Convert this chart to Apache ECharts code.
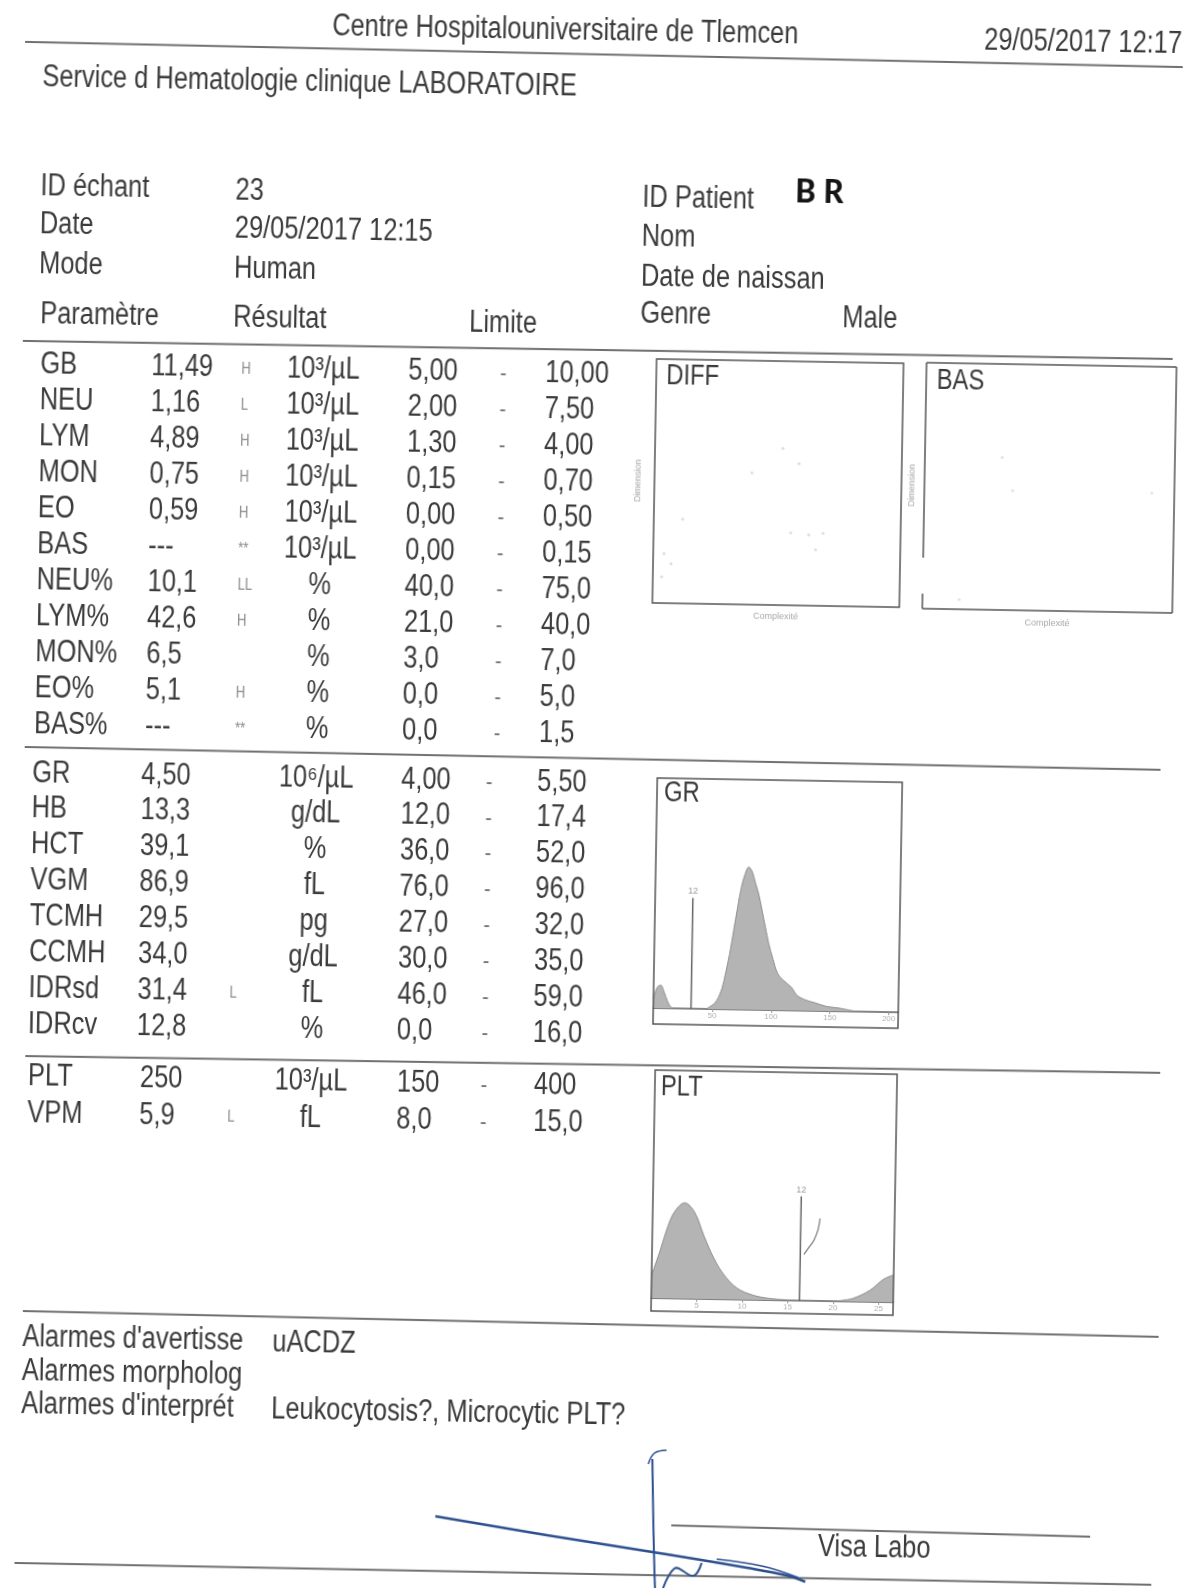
<!DOCTYPE html>
<html><head><meta charset="utf-8">
<script src="https://cdn.jsdelivr.net/npm/echarts@6/dist/echarts.min.js"></script>
<style>
html,body{margin:0;padding:0;background:#fff;overflow:hidden;width:1197px;height:1588px}
#c{position:absolute;left:0;top:0;width:1197px;height:1588px;transform:rotate(1deg);transform-origin:598px 794px;}
</style>
</head><body><div id="c"></div>
<script>
// ---------------- DATA ----------------
const headerTitle = 'Centre Hospitalouniversitaire de Tlemcen';
const printDate = '29/05/2017 12:17';
const serviceName = 'Service d Hematologie clinique LABORATOIRE';

const infoLabelsL = ['ID échant', 'Date', 'Mode'];
const infoValuesL = ['23', '29/05/2017 12:15', 'Human'];
const tableHead = ['Paramètre', 'Résultat', 'Limite'];
const infoLabelsR = ['ID Patient', 'Nom', 'Date de naissan', 'Genre'];
const patientId = 'B R';
const genre = 'Male';

const wbcParams  = ['GB','NEU','LYM','MON','EO','BAS','NEU%','LYM%','MON%','EO%','BAS%'];
const wbcResults = ['11,49','1,16','4,89','0,75','0,59','---','10,1','42,6','6,5','5,1','---'];
const wbcFlags   = ['H','L','H','H','H','**','LL','H','','H','**'];
const wbcUnits   = ['10³/µL','10³/µL','10³/µL','10³/µL','10³/µL','10³/µL','%','%','%','%','%'];
const wbcLow     = ['5,00','2,00','1,30','0,15','0,00','0,00','40,0','21,0','3,0','0,0','0,0'];
const wbcHigh    = ['10,00','7,50','4,00','0,70','0,50','0,15','75,0','40,0','7,0','5,0','1,5'];

const rbcParams  = ['GR','HB','HCT','VGM','TCMH','CCMH','IDRsd','IDRcv'];
const rbcResults = ['4,50','13,3','39,1','86,9','29,5','34,0','31,4','12,8'];
const rbcFlags   = ['','','','','','','L',''];
const rbcUnits   = ['10⁶/µL','g/dL','%','fL','pg','g/dL','fL','%'];
const rbcLow     = ['4,00','12,0','36,0','76,0','27,0','30,0','46,0','0,0'];
const rbcHigh    = ['5,50','17,4','52,0','96,0','32,0','35,0','59,0','16,0'];

const pltParams  = ['PLT','VPM'];
const pltResults = ['250','5,9'];
const pltFlags   = ['','L'];
const pltUnits   = ['10³/µL','fL'];
const pltLow     = ['150','8,0'];
const pltHigh    = ['400','15,0'];

const alarmLabels = ["Alarmes d'avertisse", 'Alarmes morpholog', "Alarmes d'interprét"];
const alarmValues = ['uACDZ', '', 'Leukocytosis?, Microcytic PLT?'];
const visaLabel = 'Visa Labo';

// scatter boxes (faint dots, % of box)
const diffDots = [[51.8,64.2],[39.4,54],[58.4,58.1],[11.7,34.5],[4.4,20.3],[7.3,16.2],[3.6,10.8],[55.5,29.7],[62.8,29],[68.6,29.7],[65.7,23]];
const basDots  = [[30.9,62],[35.3,48.6],[14.7,4],[91,48.6]];

// GR histogram (fL, relative count)
const grCurve = [[0,4],[3,9],[6,10],[9,7],[12,3],[15,0.5],[18,0],[44,0],[48,1],[52,2.5],[55,5],[58,9],[61,16],[64,24],[67,34],[70,44],[73,53],[76,59],[79,62],[82,60],[85,55],[88,50],[91,43],[94,36],[97,29],[101,22],[105,16],[110,13],[117,10],[122,6.5],[130,4.5],[137,3.5],[147,2],[157,1.4],[166,0.6],[174,0],[208,0]];
const grMarker = [32, 48];
const grMarkerLabel = '12';
const grTicks = { min: 0, max: 208, step: 50 };

// PLT histogram
const pltCurve = [[0,10],[0.9,21],[1.65,31],[2.4,38],[3.5,42],[4.6,38],[5.7,27.5],[6.8,18],[7.9,11],[9.4,5],[11.2,2],[13,0.7],[14.9,0.2],[17,0],[20,0],[21,0.4],[22.2,1.4],[24,5],[25.5,10],[26.6,12]];
const pltMarker = [16.3, 45.6];
const pltMarkerLabel = '12';
const pltFit = [[18.4,36.2],[18.2,31.2],[17.8,26.8],[17.2,23.2],[16.7,20.3]];
const pltTicks = { min: 0, max: 26.6, step: 5 };

// ---------------- STYLE / LAYOUT ----------------
const FONT = "'Liberation Sans',Arial,sans-serif";
const NARROW = 0.82;
const INK = '#3b3b3b';
const LINE = '#707070';

function T(x, y, s, o) {
  o = o || {};
  const al = o.align || 'left';
  return { type: 'text', x: x, y: y, silent: true, z: 10, scaleX: (o.sx != null ? o.sx : NARROW),
    style: { text: s, fill: o.fill || INK, fontSize: o.size || 31, fontFamily: o.family || FONT,
      fontWeight: o.weight || 'normal', textAlign: al, align: al,
      textVerticalAlign: 'middle', verticalAlign: 'middle' } };
}
function L(x1, y1, x2, y2, o) {
  o = o || {};
  return { type: 'line', silent: true, z: 5, shape: { x1, y1, x2, y2 },
    style: { stroke: o.stroke || LINE, lineWidth: o.w || 2 } };
}
function P(points, o) {
  o = o || {};
  return { type: 'polyline', silent: true, z: 20, shape: { points: points, smooth: 0.4 },
    style: { stroke: o.stroke || '#2d4f8e', lineWidth: o.w || 2.5, fill: null } };
}

const g = [];
// header
g.push(T(552, 31, headerTitle, { align: 'center' }));
g.push(T(971, 34, printDate));
g.push(L(12, 52, 1170, 57));
g.push(T(30, 87, serviceName));

// info block
const infoY = [196, 234, 274];
infoLabelsL.forEach((s, i) => { g.push(T(30, infoY[i], s)); g.push(T(225, infoY[i] + 1, infoValuesL[i])); });
g.push(T(32, 324, tableHead[0])); g.push(T(225, 324, tableHead[1])); g.push(T(461, 325, tableHead[2]));
const infoYR = [197, 236, 276, 313];
infoLabelsR.forEach((s, i) => g.push(T(632, infoYR[i], s)));
g.push(T(785, 190, patientId, { family: "Carlito,Lato,'Liberation Sans',sans-serif", weight: 'bold', size: 36, fill: '#151515', sx: 1 }));
g.push(T(834, 314, genre));

g.push(L(15, 351, 1165, 349));

function section(params, res, flags, units, lows, highs, c) {
  params.forEach((p, i) => {
    const y = c.y0 + i * c.step;
    g.push(T(c.xName, y, p));
    g.push(T(c.xRes, y, res[i]));
    if (flags[i]) g.push(T(c.xFlag, y + 1, flags[i], { size: 16, fill: '#8a8a8a' }));
    g.push(T(c.xUnit, y, units[i], { align: 'center' }));
    g.push(T(c.xLow, y, lows[i]));
    g.push(T(c.xDash, y + 1, '-', { align: 'center', size: 24, fill: '#777' }));
    g.push(T(c.xHigh, y, highs[i]));
  });
}
section(wbcParams, wbcResults, wbcFlags, wbcUnits, wbcLow, wbcHigh,
  { y0: 374.5, step: 36, xName: 33, xRes: 144, xFlag: 234, xUnit: 316, xLow: 401, xDash: 496, xHigh: 538 });
g.push(L(24, 757, 1160, 760));
section(rbcParams, rbcResults, rbcFlags, rbcUnits, rbcLow, rbcHigh,
  { y0: 783, step: 35.9, xName: 32, xRes: 141, xFlag: 233, xUnit: 316, xLow: 401, xDash: 489, xHigh: 537 });
g.push(L(30, 1066, 1165, 1063));
section(pltParams, pltResults, pltFlags, pltUnits, pltLow, pltHigh,
  { y0: 1086, step: 37, xName: 33, xRes: 145, xFlag: 233, xUnit: 316, xLow: 402, xDash: 489, xHigh: 539 });

// alarms
g.push(L(32, 1321, 1168, 1327));
const alarmY = [1347, 1381, 1414];
alarmLabels.forEach((s, i) => { g.push(T(32, alarmY[i], s)); if (alarmValues[i]) g.push(T(282, alarmY[i] + 1, alarmValues[i])); });

// visa
g.push(L(684, 1524, 1103, 1528));
g.push(T(831, 1543, visaLabel));
g.push(L(28, 1573, 1165, 1575));
// signature strokes
g.push(P([[448,1519],[560,1536],[680,1553],[760,1565],[800,1572],[819,1578]]));
g.push(P([[730,1557],[775,1563],[812,1574]], { w: 1.5 }));
g.push(P([[664,1458],[666,1520],[668,1570],[670,1607]], { w: 2 }));
g.push(P([[660,1463],[666,1452],[678,1449]], { w: 1.5 }));
g.push(P([[673,1600],[688,1567],[707,1574],[715,1561]], { w: 2 }));

// histogram boxes & labels
g.push({ type: 'rect', silent: true, z: 5, shape: { x: 657, y: 777, width: 245, height: 246 }, style: { stroke: '#555', lineWidth: 1.5, fill: null } });
g.push({ type: 'rect', silent: true, z: 5, shape: { x: 660, y: 1069, width: 242, height: 241 }, style: { stroke: '#555', lineWidth: 1.5, fill: null } });
// BAS box with gap on left edge
g.push(L(919, 357, 1169, 357, { stroke: '#555', w: 1.5 }));
g.push(L(1169, 357, 1169, 603, { stroke: '#555', w: 1.5 }));
g.push(L(919, 603, 1169, 603, { stroke: '#555', w: 1.5 }));
g.push(L(919, 357, 919, 552, { stroke: '#555', w: 1.5 }));
g.push(L(919, 588, 919, 603, { stroke: '#555', w: 1.5 }));
g.push(T(659, 374.5, 'DIFF', { size: 29 }));
g.push(T(929.5, 375, 'BAS', { size: 29 }));
g.push(T(664, 792, 'GR', { size: 29 }));
g.push(T(666, 1085.5, 'PLT', { size: 29 }));

const hiddenAxis = (gi, name, gap) => ({ gridIndex: gi, type: 'value', min: 0, max: 100,
  axisLine: { show: false }, axisTick: { show: false }, axisLabel: { show: false }, splitLine: { show: false },
  name: name, nameLocation: 'middle', nameGap: gap, nameTextStyle: { fontSize: 9, color: '#a8a8a8', fontFamily: FONT } });

function histX(gi, t) {
  return { gridIndex: gi, type: 'value', min: t.min, max: t.max, interval: t.step,
    axisLine: { show: true, lineStyle: { color: '#555', width: 1.5 } },
    axisTick: { show: true, length: 3, lineStyle: { color: '#999' } },
    axisLabel: { show: true, fontSize: 8, color: '#b0b0b0', margin: 3, showMinLabel: false, showMaxLabel: false, fontFamily: FONT },
    splitLine: { show: false } };
}
const histY = gi => ({ gridIndex: gi, type: 'value', min: 0, max: 100, show: false });

const markerSeries = (ax, m, lab) => ({ type: 'line', xAxisIndex: ax, yAxisIndex: ax, symbol: 'circle', symbolSize: 1,
  itemStyle: { color: '#666' }, lineStyle: { color: '#666', width: 1.5 }, silent: true,
  data: [[m[0], 0], { value: [m[0], m[1]], label: { show: true, position: 'top', distance: 2, formatter: lab, fontSize: 9, color: '#999' } }] });

const option = {
  animation: false,
  backgroundColor: '#ffffff',
  grid: [
    { left: 649, top: 358, width: 247, height: 244, show: true, borderColor: '#555', borderWidth: 1.5 },
    { left: 919, top: 357, width: 250, height: 246 },
    { left: 657, top: 777, width: 245, height: 230 },
    { left: 660, top: 1069, width: 242, height: 228 }
  ],
  xAxis: [ hiddenAxis(0, 'Complexité', 7), hiddenAxis(1, 'Complexité', 8), histX(2, grTicks), histX(3, pltTicks) ],
  yAxis: [ hiddenAxis(0, 'Dimension', 12), hiddenAxis(1, 'Dimension', 8), histY(2), histY(3) ],
  series: [
    { type: 'scatter', xAxisIndex: 0, yAxisIndex: 0, data: diffDots, symbolSize: 3, itemStyle: { color: '#d6d6d6' }, silent: true },
    { type: 'scatter', xAxisIndex: 1, yAxisIndex: 1, data: basDots, symbolSize: 3, itemStyle: { color: '#dcdcdc' }, silent: true },
    { type: 'line', xAxisIndex: 2, yAxisIndex: 2, data: grCurve, smooth: 0.35, showSymbol: false, silent: true,
      lineStyle: { color: '#8e8e8e', width: 1 }, areaStyle: { color: '#b4b4b4', opacity: 1 } },
    markerSeries(2, grMarker, grMarkerLabel),
    { type: 'line', xAxisIndex: 3, yAxisIndex: 3, data: pltCurve, smooth: 0.35, showSymbol: false, silent: true,
      lineStyle: { color: '#8e8e8e', width: 1 }, areaStyle: { color: '#b4b4b4', opacity: 1 } },
    markerSeries(3, pltMarker, pltMarkerLabel),
    { type: 'line', xAxisIndex: 3, yAxisIndex: 3, data: pltFit, smooth: 0.5, showSymbol: false, silent: true,
      lineStyle: { color: '#777', width: 1.2 } }
  ],
  graphic: g
};
const chart = echarts.init(document.getElementById('c'));
chart.setOption(option);
</script></body></html>
